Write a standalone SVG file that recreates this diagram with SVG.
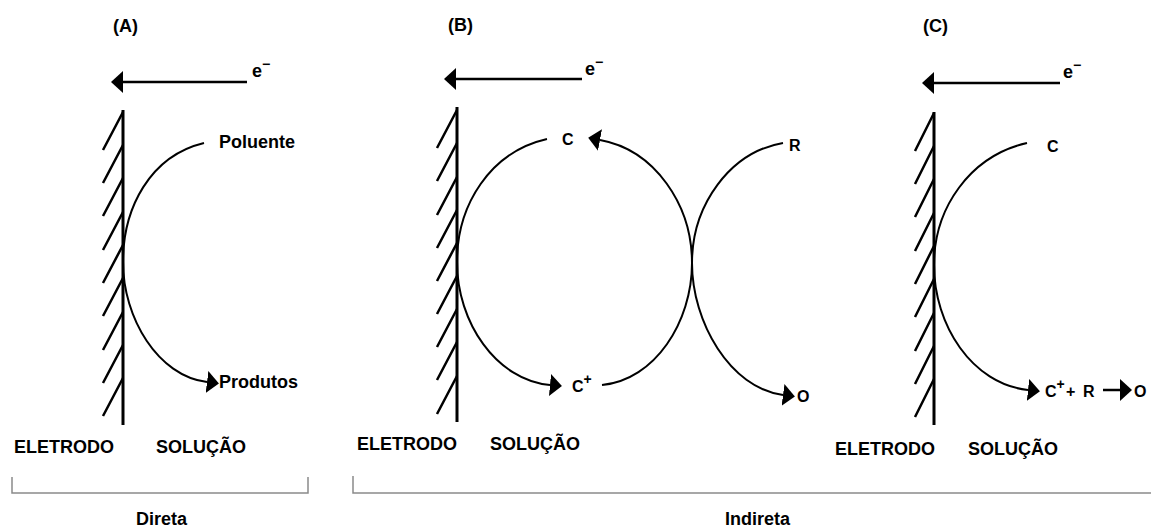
<svg xmlns="http://www.w3.org/2000/svg" width="1151" height="527" viewBox="0 0 1151 527">
<style>
text{font-family:"Liberation Sans",Arial,sans-serif;font-weight:bold;fill:#000}
.lbl{font-size:18px}
.sym{font-size:16px}
.sup{font-size:14px}
.elec{stroke:#000;stroke-width:3;fill:none}
.hatch{stroke:#000;stroke-width:2.5;fill:none}
.arc{stroke:#000;stroke-width:2;fill:none}
.eline{stroke:#000;stroke-width:2.5;fill:none}
.brk{stroke:#8a8a8a;stroke-width:1.5;fill:none}
</style>
<defs>
<marker id="ah" viewBox="0 -11 12 22" refX="0" refY="0" markerWidth="12" markerHeight="22" markerUnits="userSpaceOnUse" orient="auto-start-reverse">
<path d="M0,-11 L12,0 L0,11 z" fill="#000"/>
</marker>
</defs>

<g id="panelA">
<text class="lbl" x="113" y="32">(A)</text>
<path class="elec" d="M123,110 V425"/>
<path class="hatch" d="M123,112 l-20,38 M123,145 l-20,38 M123,178 l-20,38 M123,212 l-20,38 M123,245 l-20,38 M123,278 l-20,38 M123,312 l-20,38 M123,345 l-20,38 M123,378 l-20,38"/>
<text class="lbl" x="252" y="77">e<tspan class="sup" dy="-8">−</tspan></text>
<text class="lbl" x="219" y="148">Poluente</text>
<text class="lbl" x="219" y="388">Produtos</text>
<text class="lbl" x="14" y="453">ELETRODO</text>
<text class="lbl" x="156" y="453">SOLUÇÃO</text>
</g>

<g id="panelB">
<text class="lbl" x="448" y="31">(B)</text>
<path class="elec" d="M457,107 V422"/>
<path class="hatch" d="M457,110 l-20,38 M457,143 l-20,38 M457,177 l-20,38 M457,210 l-20,38 M457,243 l-20,38 M457,276 l-20,38 M457,309 l-20,38 M457,342 l-20,38 M457,376 l-20,38"/>
<text class="lbl" x="585" y="75">e<tspan class="sup" dy="-8">−</tspan></text>
<text class="sym" x="562" y="145">C</text>
<text class="sym" x="572" y="392">C<tspan class="sup" dy="-8">+</tspan></text>
<text class="sym" x="789" y="151">R</text>
<text class="sym" x="797" y="402">O</text>
<text class="lbl" x="357" y="450">ELETRODO</text>
<text class="lbl" x="490" y="450">SOLUÇÃO</text>
</g>

<g id="panelC">
<text class="lbl" x="923" y="32">(C)</text>
<path class="elec" d="M934,112 V425"/>
<path class="hatch" d="M934,113 l-19,38 M934,146 l-19,38 M934,179 l-19,38 M934,213 l-19,38 M934,246 l-19,38 M934,279 l-19,38 M934,313 l-19,38 M934,346 l-19,38 M934,379 l-19,38"/>
<text class="lbl" x="1063" y="78">e<tspan class="sup" dy="-8">−</tspan></text>
<text class="sym" x="1047" y="152">C</text>
<text class="sym" x="1045" y="397">C<tspan class="sup" dy="-8">+</tspan></text>
<text class="sym" x="1066" y="397">+</text>
<text class="sym" x="1083" y="397">R</text>
<text class="sym" x="1134" y="397">O</text>
<text class="lbl" x="835" y="455">ELETRODO</text>
<text class="lbl" x="968" y="455">SOLUÇÃO</text>
</g>

<g id="brackets">
<path class="brk" d="M12,477 V493 H308 V477"/>
<text class="lbl" x="136" y="525">Direta</text>
<path class="brk" d="M353,476 V493 H1151"/>
<text class="lbl" x="725" y="525">Indireta</text>
</g>

<g id="connectors">
<path class="eline" d="M247,82 H123" marker-end="url(#ah)"/>
<path class="eline" d="M582,79 H456" marker-end="url(#ah)"/>
<path class="eline" d="M1060,83 H934" marker-end="url(#ah)"/>
<path class="arc" d="M204,143 C150,156 123,208 123,262 C123,318 158,376 207,382" marker-end="url(#ah)"/>
<path class="arc" d="M547,139 C490,152 457,205 457,262 C457,322 496,380 550,385" marker-end="url(#ah)"/>
<path class="arc" d="M600,140 C655,150 692,205 692,263 C692,322 655,380 602,385" marker-start="url(#ah)"/>
<path class="arc" d="M783,143 C730,152 692,205 692,263 C692,322 730,388 783,395" marker-end="url(#ah)"/>
<path class="arc" d="M1027,143 C970,156 934,208 934,265 C934,325 972,384 1028,390" marker-end="url(#ah)"/>
<path class="eline" d="M1103,390 H1120" marker-end="url(#ah)"/>
</g>
</svg>
